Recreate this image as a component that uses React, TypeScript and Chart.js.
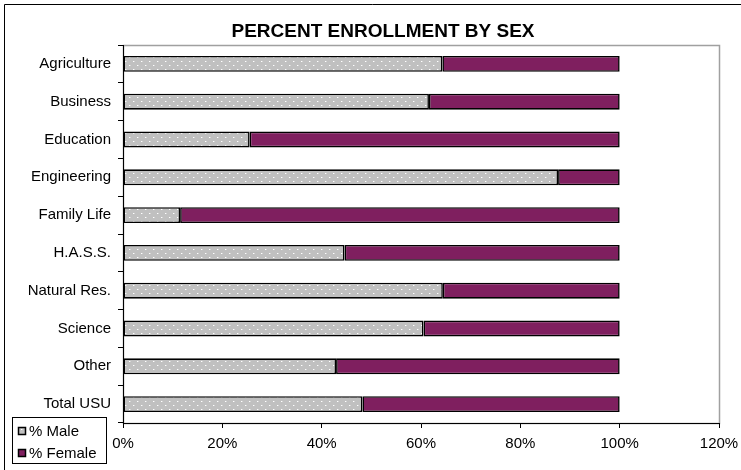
import React, { useEffect, useRef } from "react";
import { Chart, registerables } from "chart.js";

Chart.register(...registerables);

const categories = [
  "Agriculture",
  "Business",
  "Education",
  "Engineering",
  "Family Life",
  "H.A.S.S.",
  "Natural Res.",
  "Science",
  "Other",
  "Total USU",
];
const malePct = [64.3, 61.6, 25.5, 87.6, 11.5, 44.6, 64.4, 60.5, 42.9, 48.2];
const femalePct = malePct.map((m) => Math.round((100 - m) * 10) / 10);
const xTicks = [0, 20, 40, 60, 80, 100, 120];
const titleText = "PERCENT ENROLLMENT BY SEX";
const seriesNames = ["% Male", "% Female"];

const FONT = "'Liberation Sans', Arial, sans-serif";
const FEMALE_COLOR = "#7F1F5F";
const MALE_BASE = "#C0C0C0";

function makePattern(): CanvasPattern | string {
  const c = document.createElement("canvas");
  c.width = 8;
  c.height = 8;
  const g = c.getContext("2d");
  if (!g) return MALE_BASE;
  g.fillStyle = MALE_BASE;
  g.fillRect(0, 0, 8, 8);
  g.fillStyle = "#FFFFFF";
  g.fillRect(1, 1, 1, 1);
  g.fillRect(5, 5, 1, 1);
  g.fillStyle = "#D8D8D8";
  g.fillRect(2, 1, 1, 1);
  g.fillRect(6, 5, 1, 1);
  const p = g.createPattern(c, "repeat");
  return p || MALE_BASE;
}

export default function App() {
  const ref = useRef<HTMLCanvasElement>(null);

  useEffect(() => {
    document.body.style.margin = "0";
    const canvas = ref.current;
    if (!canvas) return;
    const pattern = makePattern();

    const decor = {
      id: "decor",
      beforeDraw(chart: any) {
        const ctx = chart.ctx;
        const a = chart.chartArea;
        ctx.save();
        ctx.fillStyle = "#ffffff";
        ctx.fillRect(0, 0, chart.width, chart.height);
        ctx.strokeStyle = "#A0A0A0";
        ctx.lineWidth = 1.5;
        ctx.strokeRect(a.left + 0.5, a.top + 0.5, a.right - a.left, a.bottom - a.top);
        ctx.restore();
      },
      afterDraw(chart: any) {
        const ctx = chart.ctx;
        ctx.save();
        // outer frame
        ctx.strokeStyle = "#000";
        ctx.lineWidth = 1;
        ctx.beginPath();
        ctx.moveTo(4.5, 470);
        ctx.lineTo(4.5, 4.5);
        ctx.lineTo(741, 4.5);
        ctx.stroke();
        // title
        ctx.fillStyle = "#000";
        ctx.font = "bold 19px " + FONT;
        ctx.textAlign = "center";
        ctx.textBaseline = "alphabetic";
        ctx.fillText(titleText, 383, 37);
        // legend
        ctx.fillStyle = "#fff";
        ctx.fillRect(12, 417, 95, 46);
        ctx.strokeStyle = "#000";
        ctx.lineWidth = 1;
        ctx.strokeRect(12.5, 417.5, 94, 46);
        const items = [
          { y: 427, fill: pattern, label: seriesNames[0] },
          { y: 449, fill: FEMALE_COLOR, label: seriesNames[1] },
        ];
        ctx.font = "15px " + FONT;
        ctx.textAlign = "left";
        ctx.textBaseline = "middle";
        for (const it of items) {
          ctx.fillStyle = it.fill as any;
          ctx.fillRect(18, it.y, 8, 8);
          ctx.lineWidth = 1.5;
          ctx.strokeRect(18.5, it.y + 0.5, 7, 7);
          ctx.fillStyle = "#000";
          ctx.fillText(it.label, 29, it.y + 4.5);
        }
        ctx.restore();
      },
    };

    const chart = new Chart(canvas, {
      type: "bar",
      data: {
        labels: categories,
        datasets: [
          {
            label: seriesNames[0],
            data: malePct,
            backgroundColor: pattern as any,
            borderColor: "#000",
            borderWidth: 1.6,
            borderSkipped: false,
            categoryPercentage: 1,
            barPercentage: 0.42,
          },
          {
            label: seriesNames[1],
            data: femalePct,
            backgroundColor: FEMALE_COLOR,
            borderColor: "#000",
            borderWidth: 1.6,
            borderSkipped: false,
            categoryPercentage: 1,
            barPercentage: 0.42,
          },
        ],
      },
      options: {
        indexAxis: "y",
        responsive: false,
        animation: false,
        devicePixelRatio: 1,
        layout: { padding: { top: 45, right: 22, left: 0, bottom: 0 } },
        plugins: {
          legend: { display: false },
          title: { display: false },
          tooltip: { enabled: false },
        },
        scales: {
          x: {
            stacked: true,
            min: 0,
            max: 120,
            afterBuildTicks: (s: any) => {
              s.ticks = xTicks.map((v) => ({ value: v }));
            },
            afterFit: (s: any) => {
              s.height = 47;
              s.paddingLeft = 0;
              s.paddingRight = 0;
            },
            ticks: {
              callback: (v: any) => v + "%",
              color: "#000",
              font: { family: FONT, size: 15 },
              padding: 7,
              maxRotation: 0,
            },
            grid: {
              drawOnChartArea: false,
              drawTicks: true,
              tickLength: 5,
              color: "#000",
            },
            border: { display: true, color: "#000", width: 1 },
          },
          y: {
            stacked: true,
            afterFit: (s: any) => {
              s.width = 123;
              s.paddingTop = 0;
              s.paddingBottom = 0;
            },
            ticks: {
              color: "#000",
              font: { family: FONT, size: 15 },
              padding: 7,
            },
            grid: {
              offset: true,
              drawOnChartArea: false,
              drawTicks: true,
              tickLength: 5,
              color: "#000",
            },
            border: { display: true, color: "#000", width: 1 },
          },
        },
      },
      plugins: [decor],
    });

    return () => chart.destroy();
  }, []);

  return (
    <div style={{ width: 741, height: 470 }}>
      <canvas ref={ref} width={741} height={470} style={{ display: "block" }} />
    </div>
  );
}
